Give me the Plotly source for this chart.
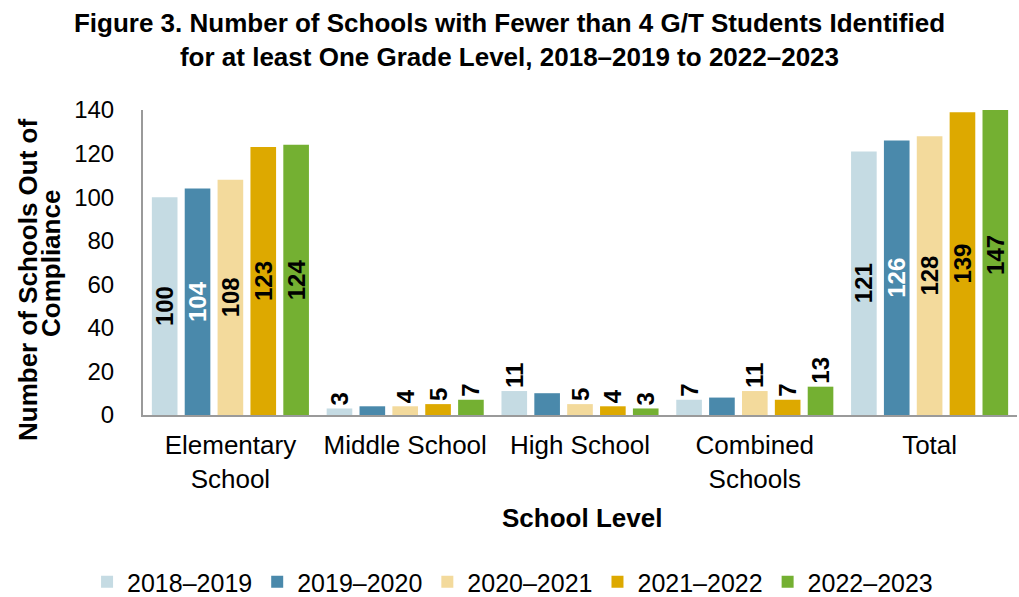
import plotly.graph_objects as go

# School levels shown on the x axis
categories = ["Elementary<br>School", "Middle School", "High School", "Combined<br>Schools", "Total"]

# Number of schools out of compliance, per school year
years = ["2018–2019", "2019–2020", "2020–2021", "2021–2022", "2022–2023"]
y2018_2019 = [100, 3, 11, 7, 121]
y2019_2020 = [104, 4, 10, 8, 126]
y2020_2021 = [108, 4, 5, 11, 128]
y2021_2022 = [123, 5, 4, 7, 139]
y2022_2023 = [124, 7, 3, 13, 147]

y_ticks = [0, 20, 40, 60, 80, 100, 120, 140]

series = [y2018_2019, y2019_2020, y2020_2021, y2021_2022, y2022_2023]
colors = ["#C5DBE3", "#4A89AB", "#F3DA9C", "#DDA900", "#74B032"]
label_colors = ["#000000", "#FFFFFF", "#000000", "#000000", "#000000"]

FONT = "Liberation Sans, Arial, sans-serif"

# px geometry of the plotting area
L, R, T, B = 143, 2, 110, 182
PLOT_H = 597 - T - B
AXIS_Y = 597 - B


def py(pixel_y):
    """Convert a page pixel row to paper y."""
    return (AXIS_Y - pixel_y) / PLOT_H


def px(pixel_x):
    """Convert a page pixel column to paper x."""
    return (pixel_x - L) / (1019 - L - R)


fig = go.Figure()
for name, vals, col, lcol in zip(years, series, colors, label_colors):
    fig.add_trace(go.Bar(
        name=name,
        x=categories,
        y=vals,
        marker=dict(color=col, line=dict(width=0)),
        text=[str(v) for v in vals],
        # short bars carry their value just above the bar
        textposition=["outside" if v < 15 else "inside" for v in vals],
        textangle=-90,
        insidetextanchor="middle",
        constraintext="none",
        insidetextfont=dict(family=FONT, size=24, color=lcol, weight="bold"),
        outsidetextfont=dict(family=FONT, size=24, color=lcol, weight="bold"),
        cliponaxis=True,
        hoverinfo="skip",
    ))

fig.update_layout(
    width=1019,
    height=597,
    margin=dict(l=L, r=R, t=T, b=B),
    paper_bgcolor="white",
    plot_bgcolor="white",
    barmode="group",
    bargap=0.06,
    bargroupgap=0.22,
    font=dict(family=FONT, size=26, color="#000000"),
    title=dict(
        text="Figure 3. Number of Schools with Fewer than 4 G/T Students Identified<br>"
             "for at least One Grade Level, 2018–2019 to 2022–2023",
        x=0.5, xref="container", xanchor="center",
        y=1 - 32 / 597, yref="container", yanchor="middle",
        font=dict(family=FONT, size=26, color="#000000", weight="bold"),
    ),
    showlegend=True,
    legend=dict(
        orientation="h",
        xref="container", x=0.503, xanchor="center",
        yref="container", y=1 - 582 / 597, yanchor="middle",
        font=dict(family=FONT, size=25, color="#000000"),
        itemwidth=30,
        traceorder="normal",
    ),
    xaxis=dict(
        showline=True, linecolor="#9A9A9A", linewidth=2,
        showgrid=False, ticks="", zeroline=False,
        tickfont=dict(family=FONT, size=26),
        ticklabelstandoff=6,
    ),
    yaxis=dict(
        range=[0, 140],
        tickvals=y_ticks,
        showline=True, linecolor="#9A9A9A", linewidth=2,
        showgrid=False, ticks="", zeroline=False,
        tickfont=dict(family=FONT, size=24),
        ticklabelstandoff=22,
    ),
    annotations=[
        dict(
            text="Number of Schools Out of",
            xref="paper", yref="paper",
            x=px(28), y=py(280),
            xanchor="center", yanchor="middle",
            textangle=-90, showarrow=False,
            font=dict(family=FONT, size=26, color="#000000", weight="bold"),
        ),
        dict(
            text="Compliance",
            xref="paper", yref="paper",
            x=px(51), y=py(264),
            xanchor="center", yanchor="middle",
            textangle=-90, showarrow=False,
            font=dict(family=FONT, size=26, color="#000000", weight="bold"),
        ),
        dict(
            text="School Level",
            xref="paper", yref="paper",
            x=px(582), y=py(518),
            xanchor="center", yanchor="middle",
            showarrow=False,
            font=dict(family=FONT, size=26, color="#000000", weight="bold"),
        ),
    ],
)

fig.write_html("out.html")
